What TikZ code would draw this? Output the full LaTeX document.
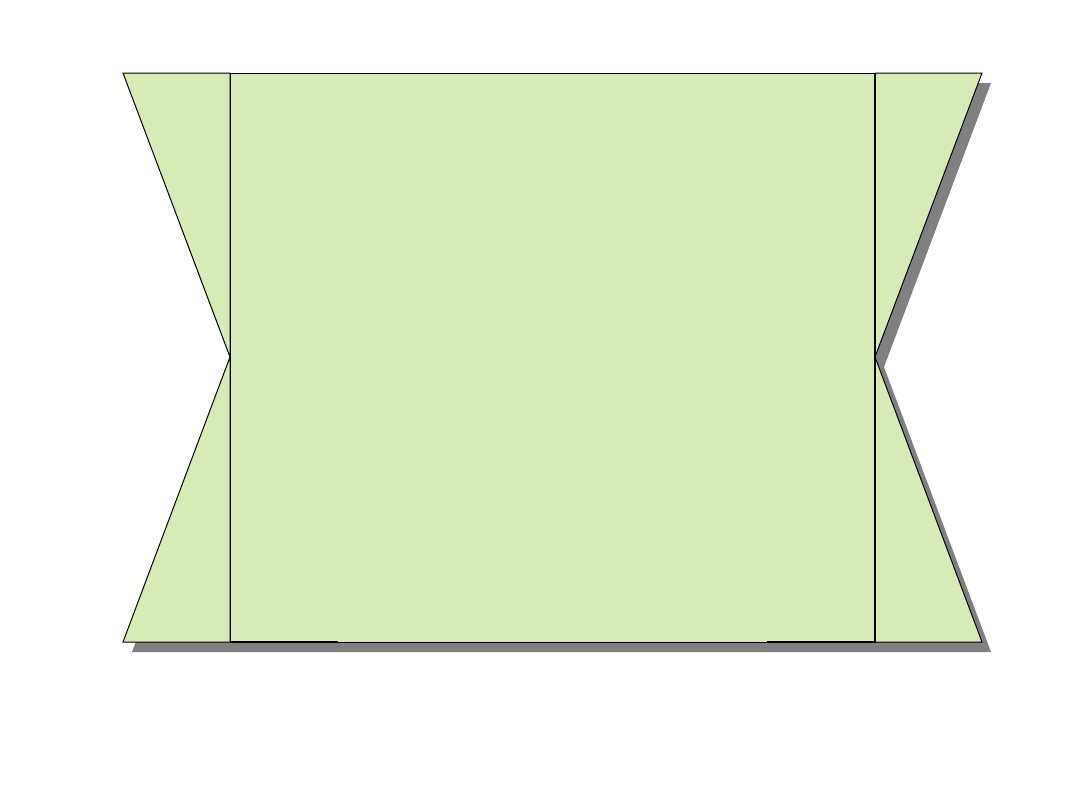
\documentclass[tikz,border=0pt]{standalone}
\usetikzlibrary{calc,positioning}
\definecolor{panelgreen}{RGB}{216,234,182}
\definecolor{shadowgray}{RGB}{128,128,128}

\begin{document}
\begin{tikzpicture}[x=0.75pt,y=-0.75pt,line join=miter]
    \useasboundingbox (0,0) rectangle (1080,810);

    \path (123,73)  coordinate (tl)
          (230,73)  coordinate (il)
          (875,73)  coordinate (ir)
          (982,73)  coordinate (tr)
          (230,357) coordinate (nl)
          (875,357) coordinate (nr)
          (123,642) coordinate (bl)
          (230,642) coordinate (jl)
          (875,642) coordinate (jr)
          (982,642) coordinate (br);

    % shadow
    \fill[shadowgray]
      ($(tl)+(9,10)$) -- ($(tr)+(9,10)$) -- ($(nr)+(9,10)$)
      -- ($(br)+(9,10)$) -- ($(bl)+(9,10)$) -- ($(nl)+(9,10)$) -- cycle;

    % side pieces
    \path[draw,fill=panelgreen,line width=0.75pt]
      (tl) -- (il) -- (jl) -- (bl) -- (nl) -- cycle;
    \path[draw,fill=panelgreen,line width=0.75pt]
      (ir) -- (tr) -- (nr) -- (br) -- (jr) -- cycle;

    % middle panel
    \path[draw,fill=panelgreen,line width=0.75pt] (il) rectangle (jr);
    \draw[line width=1.2pt] (jl) -- ++(108,0);
    \draw[line width=1.2pt] (jr) -- ++(-108,0);
    \draw[line width=1.2pt] (ir) -- (jr);

\end{tikzpicture}
\end{document}
